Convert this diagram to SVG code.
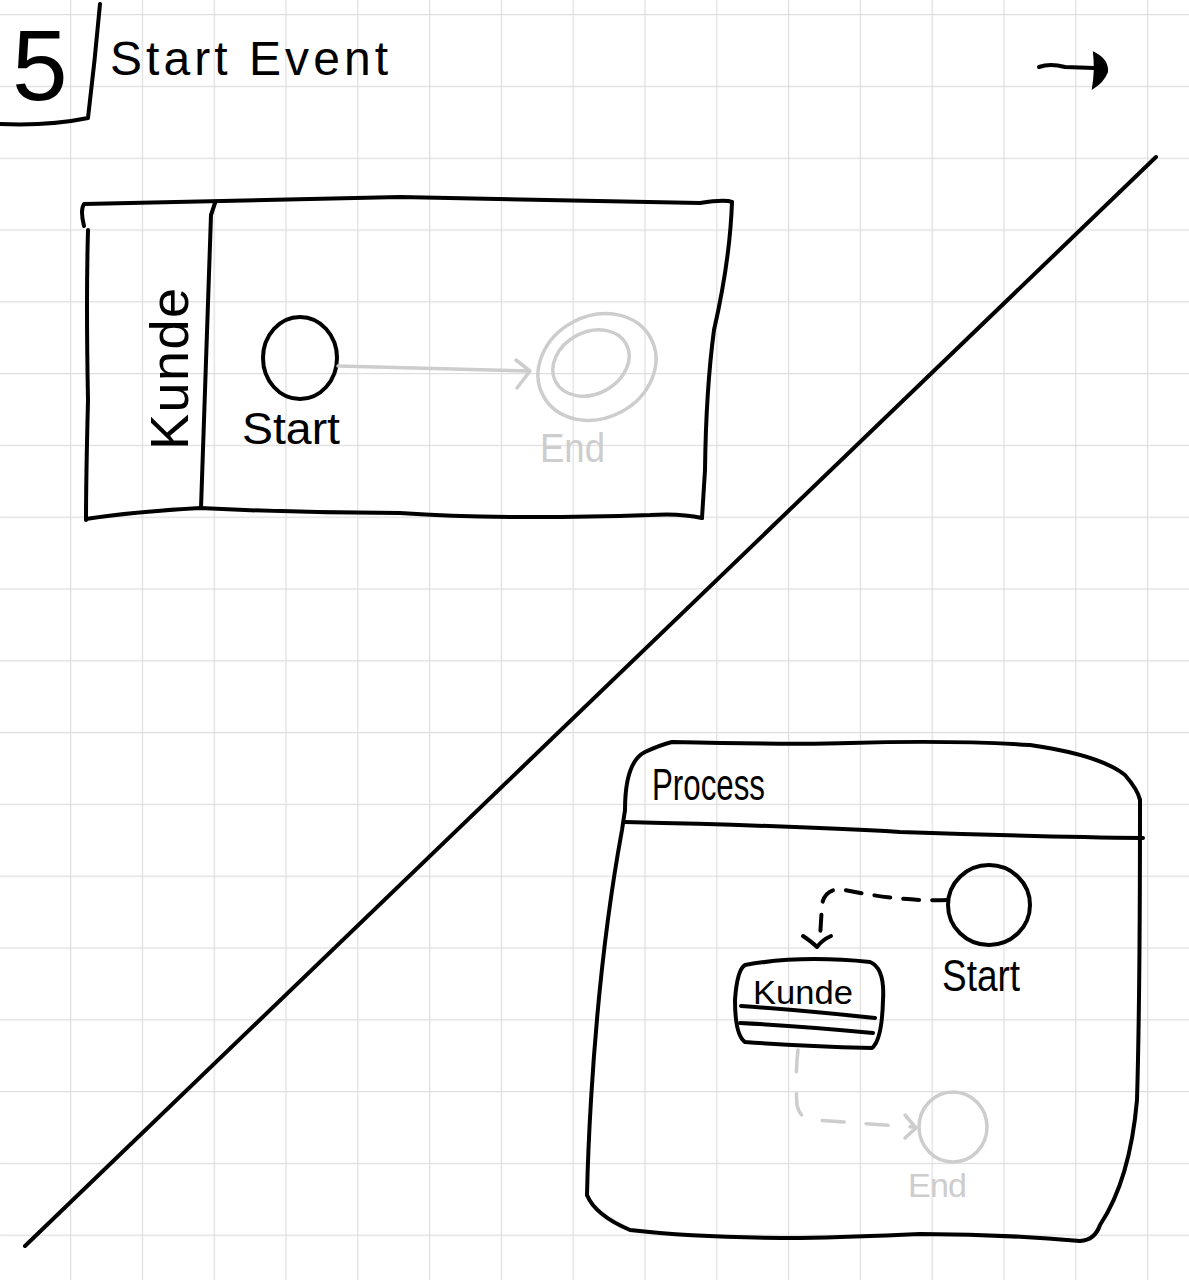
<svg xmlns="http://www.w3.org/2000/svg" width="1189" height="1280" viewBox="0 0 1189 1280">
<defs>
<pattern id="grid" patternUnits="userSpaceOnUse" x="-1.8" y="14" width="71.8" height="71.8">
<path d="M0,0 H71.8 M0,0 V71.8" fill="none" stroke="#dedede" stroke-width="2.4"/>
</pattern>
</defs>
<style>
.ink{fill:none;stroke:#000;stroke-width:4;stroke-linecap:round;stroke-linejoin:round}
.grey{fill:none;stroke:#cdcdcd;stroke-width:3.5;stroke-linecap:round;stroke-linejoin:round}
.t{font-family:"Liberation Sans",Arial,sans-serif;fill:#000}
.tg{font-family:"Liberation Sans",Arial,sans-serif;fill:#cdcdcd}
.dash{stroke-dasharray:16 13}
.gdash{stroke-dasharray:22 22}
</style>
<rect width="1189" height="1280" fill="#fff"/>
<rect width="1189" height="1280" fill="url(#grid)"/>

<g id="title">
<text class="t" x="12" y="100" font-size="100">5</text>
<path class="ink" d="M100,4 Q95,60 88,118 Q50,126 0,124"/>
<text class="t" x="110" y="75" font-size="48" textLength="278" lengthAdjust="spacing">Start Event</text>
</g>

<g id="corner-arrow">
<path class="ink" d="M1039,67 Q1050,63 1065,67 L1094,68"/>
<path d="M1094,53 Q1108,60 1107,72 Q1103,82 1093,88 Q1096,70 1094,53 Z" fill="#000" stroke="#000" stroke-width="2"/>
</g>

<g id="divider">
<path class="ink" d="M1156,157 L25,1246"/>
</g>

<g id="pool-top">
<path class="ink" d="M84,226 Q80,210 84,204 Q200,201 400,197 Q600,201 700,203 Q725,199 732,202"/>
<path class="ink" d="M732,202 Q730,260 714,330 Q706,390 705,470 L702,518"/>
<path class="ink" d="M702,518 Q680,513 650,515 Q500,520 400,513 Q300,513 200,508 Q130,512 86,519"/>
<path class="ink" d="M88,230 Q86,300 88,400 Q86,480 86,520"/>
<path class="ink" d="M215,203 L211,215 Q207,350 201,508"/>
</g>

<g id="lane-kunde">
<text class="t" transform="translate(188,450) rotate(-90)" font-size="54" textLength="162" lengthAdjust="spacing">Kunde</text>
</g>

<g id="start-top">
<ellipse class="ink" cx="300" cy="358" rx="37" ry="41"/>
<text class="t" x="242" y="444" font-size="45" textLength="98" lengthAdjust="spacingAndGlyphs">Start</text>
</g>

<g id="end-top">
<ellipse class="grey" cx="597" cy="367" rx="61" ry="51" transform="rotate(-28 597 367)"/>
<ellipse class="grey" cx="591" cy="363" rx="40" ry="31" transform="rotate(-28 591 363)"/>
<text class="tg" x="540" y="462" font-size="40" textLength="65" lengthAdjust="spacingAndGlyphs">End</text>
</g>

<g id="pool-process">
<path class="ink" d="M625,810 Q625,762 645,752 Q660,745 672,742 Q800,745 850,743 Q950,740 1030,745 Q1100,755 1125,775 Q1138,790 1140,800"/>
<path class="ink" d="M1140,800 Q1140,1000 1137,1100 Q1130,1180 1100,1225 Q1095,1240 1080,1241"/>
<path class="ink" d="M1080,1241 Q1000,1234 920,1234 Q850,1237 800,1238 Q700,1238 630,1230 Q595,1215 587,1195"/>
<path class="ink" d="M587,1195 Q588,1150 591,1100 Q600,950 622,830 L625,810"/>
<path class="ink" d="M625,822 Q800,826 900,832 Q1050,837 1143,838"/>
<text class="t" x="652" y="800" font-size="44" textLength="113" lengthAdjust="spacingAndGlyphs">Process</text>
</g>

<g id="start-bottom">
<ellipse class="ink" cx="989" cy="905" rx="41" ry="40"/>
<text class="t" x="942" y="991" font-size="45" textLength="78" lengthAdjust="spacingAndGlyphs">Start</text>
</g>

<g id="kunde-participant">
<path class="ink" d="M745,965 Q800,955 870,962 Q885,968 883,1000 Q882,1040 872,1048 Q800,1046 745,1042 Q735,1035 735,1000 Q737,970 745,965 Z"/>
<path class="ink" d="M741,1006 Q800,1010 875,1018"/>
<path class="ink" d="M740,1023 Q800,1026 873,1033"/>
<text class="t" x="753" y="1004" font-size="34" textLength="100" lengthAdjust="spacingAndGlyphs">Kunde</text>
</g>

<g id="end-bottom">
<ellipse class="grey" cx="953" cy="1127" rx="34" ry="35"/>
<text class="tg" x="908" y="1197" font-size="34" textLength="59" lengthAdjust="spacing">End</text>
</g>

<g id="connectors">
<path class="grey" d="M338,366 Q430,368 528,371"/>
<path class="grey" d="M516,360 L530,371 L517,388"/>
<path class="ink dash" d="M948,900 Q900,902 840,889 Q824,890 822,905 L820,938"/>
<path class="ink" d="M803,936 Q812,942 817,947 Q822,940 831,936"/>
<path class="grey gdash" d="M798,1050 Q795,1075 797,1105 Q800,1120 815,1120 L912,1127"/>
<path class="grey" d="M905,1115 L916,1128 L905,1138"/>
</g>
</svg>
